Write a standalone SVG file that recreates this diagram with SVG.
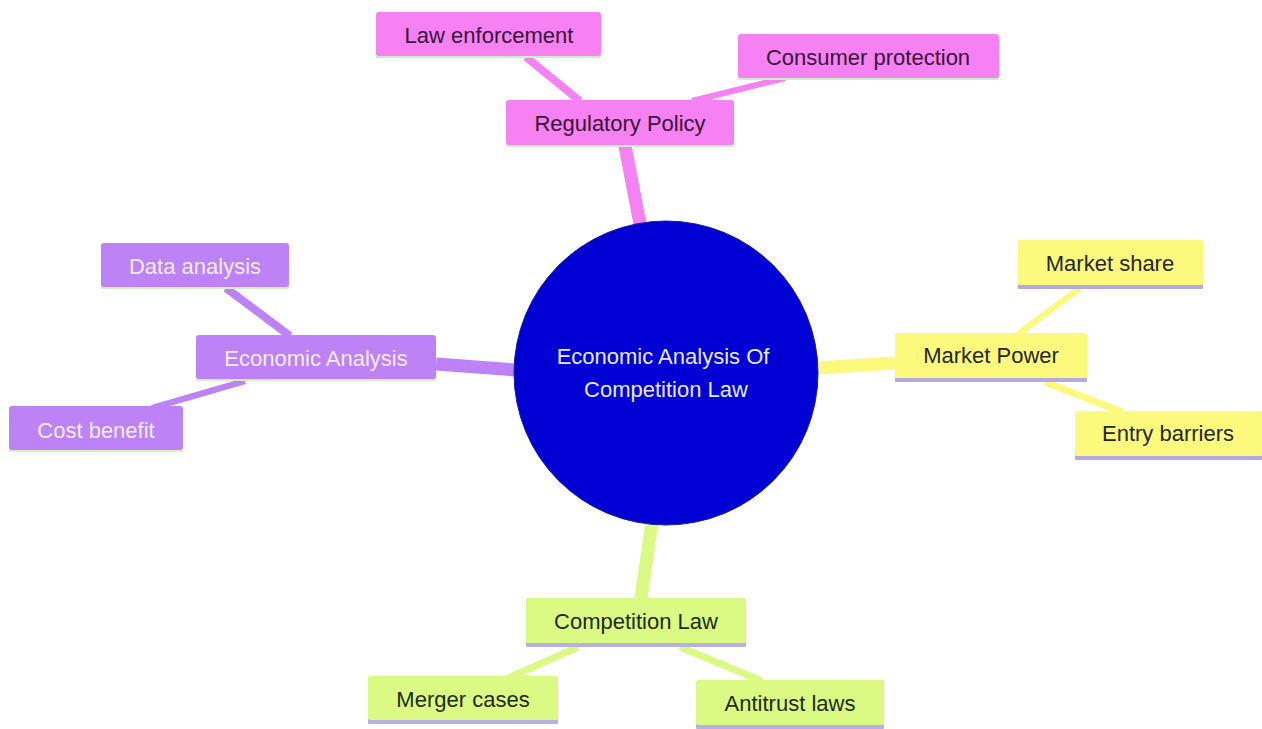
<svg xmlns="http://www.w3.org/2000/svg" width="1262" height="729" viewBox="0 0 1262 729">
<style>
text{font-family:"Liberation Sans",Arial,sans-serif;font-size:22px;text-anchor:middle;dominant-baseline:central}
.pk rect.b{fill:#f581f2}
.pk rect.s{fill:#c9f0c3}
.pk text{fill:#3b1239}
.pu rect.b{fill:#bd82f6}
.pu rect.s{fill:#d3f0c0}
.pu text{fill:#f4ecf8}
.ye rect.b{fill:#fbfa7c}
.ye rect.s{fill:#b3a9e6}
.ye text{fill:#262626}
.gr rect.b{fill:#dafa84}
.gr rect.s{fill:#b7b0e6}
.gr text{fill:#1f2a12}
.e{fill:none;stroke-linecap:butt}
</style>
<rect width="1262" height="729" fill="#ffffff"/>
<g id="connectors">
<line class="e" x1="640" y1="224" x2="625" y2="146" stroke="#f581f2" stroke-width="13"/>
<line class="e" x1="526" y1="57" x2="580" y2="101" stroke="#f581f2" stroke-width="8"/>
<line class="e" x1="692" y1="101" x2="785" y2="78" stroke="#f581f2" stroke-width="6"/>
<line class="e" x1="516" y1="370" x2="436" y2="364" stroke="#bd82f6" stroke-width="13"/>
<line class="e" x1="290" y1="336" x2="226" y2="288" stroke="#bd82f6" stroke-width="8"/>
<line class="e" x1="245" y1="381" x2="152" y2="408" stroke="#bd82f6" stroke-width="6"/>
<line class="e" x1="816" y1="368" x2="895" y2="363" stroke="#fbfa7c" stroke-width="13"/>
<line class="e" x1="1018" y1="334" x2="1080" y2="288" stroke="#fbfa7c" stroke-width="6"/>
<line class="e" x1="1045" y1="382" x2="1122" y2="412" stroke="#fbfa7c" stroke-width="7"/>
<line class="e" x1="652" y1="522" x2="641" y2="598" stroke="#dafa84" stroke-width="13"/>
<line class="e" x1="578" y1="647" x2="508" y2="678" stroke="#dafa84" stroke-width="7"/>
<line class="e" x1="680" y1="647" x2="762" y2="681" stroke="#dafa84" stroke-width="7"/>
</g>
<g id="root">
<circle cx="666" cy="373" r="152" fill="#0000d4" stroke="#1c1c9a" stroke-width="1"/>
<text x="663" y="356" fill="#e8e8f4">Economic Analysis Of</text>
<text x="666" y="389" fill="#e8e8f4">Competition Law</text>
</g>
<g id="regulatory-policy" class="pk">
<rect class="s" x="506" y="143" width="228" height="4" rx="1"/>
<rect class="b" x="506" y="100" width="228" height="45" rx="3"/>
<text x="620" y="123">Regulatory Policy</text>
</g>
<g id="law-enforcement" class="pk">
<rect class="s" x="376" y="54" width="225" height="4" rx="1"/>
<rect class="b" x="376" y="12" width="225" height="44" rx="3"/>
<text x="489" y="35">Law enforcement</text>
</g>
<g id="consumer-protection" class="pk">
<rect class="s" x="738" y="76" width="261" height="4" rx="1"/>
<rect class="b" x="738" y="34" width="261" height="44" rx="3"/>
<text x="868" y="57">Consumer protection</text>
</g>
<g id="economic-analysis" class="pu">
<rect class="s" x="196" y="377" width="240" height="4" rx="1"/>
<rect class="b" x="196" y="335" width="240" height="44" rx="3"/>
<text x="316" y="358">Economic Analysis</text>
</g>
<g id="data-analysis" class="pu">
<rect class="s" x="101" y="285" width="188" height="4" rx="1"/>
<rect class="b" x="101" y="243" width="188" height="44" rx="3"/>
<text x="195" y="266">Data analysis</text>
</g>
<g id="cost-benefit" class="pu">
<rect class="s" x="9" y="448" width="174" height="4" rx="1"/>
<rect class="b" x="9" y="406" width="174" height="44" rx="3"/>
<text x="96" y="430">Cost benefit</text>
</g>
<g id="market-power" class="ye">
<rect class="s" x="895" y="377" width="192" height="5" rx="1"/>
<rect class="b" x="895" y="333" width="192" height="45" rx="2"/>
<text x="991" y="355">Market Power</text>
</g>
<g id="market-share" class="ye">
<rect class="s" x="1018" y="284" width="185" height="5" rx="1"/>
<rect class="b" x="1018" y="240" width="185" height="45" rx="2"/>
<text x="1110" y="263">Market share</text>
</g>
<g id="entry-barriers" class="ye">
<rect class="s" x="1075" y="455" width="187" height="5" rx="1"/>
<rect class="b" x="1075" y="411" width="187" height="45" rx="2"/>
<text x="1168" y="433">Entry barriers</text>
</g>
<g id="competition-law" class="gr">
<rect class="s" x="526" y="642" width="220" height="5" rx="1"/>
<rect class="b" x="526" y="598" width="220" height="45" rx="2"/>
<text x="636" y="621">Competition Law</text>
</g>
<g id="merger-cases" class="gr">
<rect class="s" x="368" y="719" width="190" height="5" rx="1"/>
<rect class="b" x="368" y="676" width="190" height="44" rx="2"/>
<text x="463" y="699">Merger cases</text>
</g>
<g id="antitrust-laws" class="gr">
<rect class="s" x="696" y="724" width="188" height="5" rx="1"/>
<rect class="b" x="696" y="680" width="188" height="45" rx="2"/>
<text x="790" y="703">Antitrust laws</text>
</g>
</svg>
